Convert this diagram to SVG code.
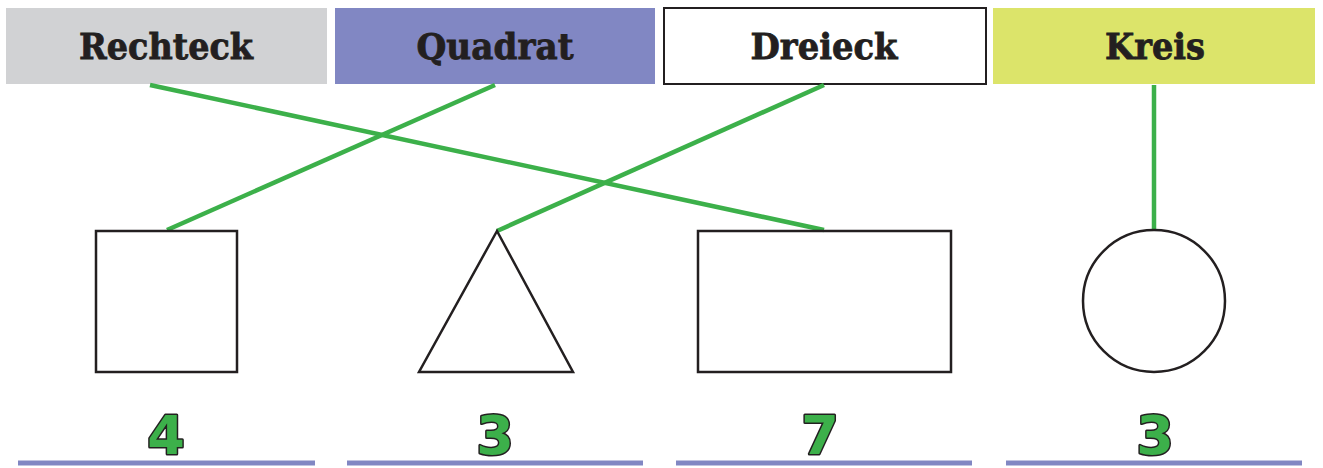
<svg xmlns="http://www.w3.org/2000/svg" width="1323" height="468" viewBox="0 0 1323 468">
<style>
.lbl{font-family:"DejaVu Serif",serif;font-weight:bold;font-size:35px;fill:#231f20;stroke:#231f20;stroke-width:0.8;text-anchor:middle}
.shape{fill:none;stroke:#231f20;stroke-width:2.5}
.conn{stroke:#3cb04a;stroke-width:4.5;fill:none}
.num{font-family:"DejaVu Sans",sans-serif;font-weight:bold;font-size:54px;fill:#3cb04a;stroke:#231f20;stroke-width:3;paint-order:stroke;stroke-linejoin:round;text-anchor:middle}
.ul{stroke:#8187c3;stroke-width:5}
</style>
<rect width="1323" height="468" fill="#fff"/>
<g id="rechteck"><rect x="6" y="8" width="321" height="76" fill="#d1d2d4"/><text class="lbl" x="166" y="59" textLength="174" lengthAdjust="spacingAndGlyphs">Rechteck</text></g>
<g id="quadrat"><rect x="335" y="8" width="320" height="76" fill="#8187c3"/><text class="lbl" x="495" y="59" textLength="157" lengthAdjust="spacingAndGlyphs">Quadrat</text></g>
<g id="dreieck"><rect x="664" y="8" width="322" height="76" fill="#fff" stroke="#231f20" stroke-width="2"/><text class="lbl" x="824" y="59" textLength="147" lengthAdjust="spacingAndGlyphs">Dreieck</text></g>
<g id="kreis"><rect x="993" y="8" width="322" height="76" fill="#dce46a"/><text class="lbl" x="1155" y="59" textLength="100" lengthAdjust="spacingAndGlyphs">Kreis</text></g>
<g id="connectors">
<line class="conn" x1="150" y1="85" x2="824" y2="230"/>
<line class="conn" x1="495" y1="85" x2="167" y2="230"/>
<line class="conn" x1="824" y1="85" x2="497" y2="231"/>
<line class="conn" x1="1154" y1="85" x2="1154" y2="231"/>
</g>
<g id="square"><rect class="shape" x="96" y="231" width="141" height="141"/></g>
<g id="triangle"><polygon class="shape" points="497,231 419,372 573,372"/></g>
<g id="rectangle"><rect class="shape" x="698" y="231" width="253" height="141"/></g>
<g id="circle"><circle class="shape" cx="1154" cy="301" r="71"/></g>
<g id="answers">
<text class="num" x="166" y="454">4</text>
<text class="num" x="495" y="454">3</text>
<text class="num" x="820" y="454">7</text>
<text class="num" x="1155" y="454">3</text>
<line class="ul" x1="18" y1="463" x2="315" y2="463"/>
<line class="ul" x1="347" y1="463" x2="643" y2="463"/>
<line class="ul" x1="676" y1="463" x2="972" y2="463"/>
<line class="ul" x1="1006" y1="463" x2="1302" y2="463"/>
</g>
</svg>
